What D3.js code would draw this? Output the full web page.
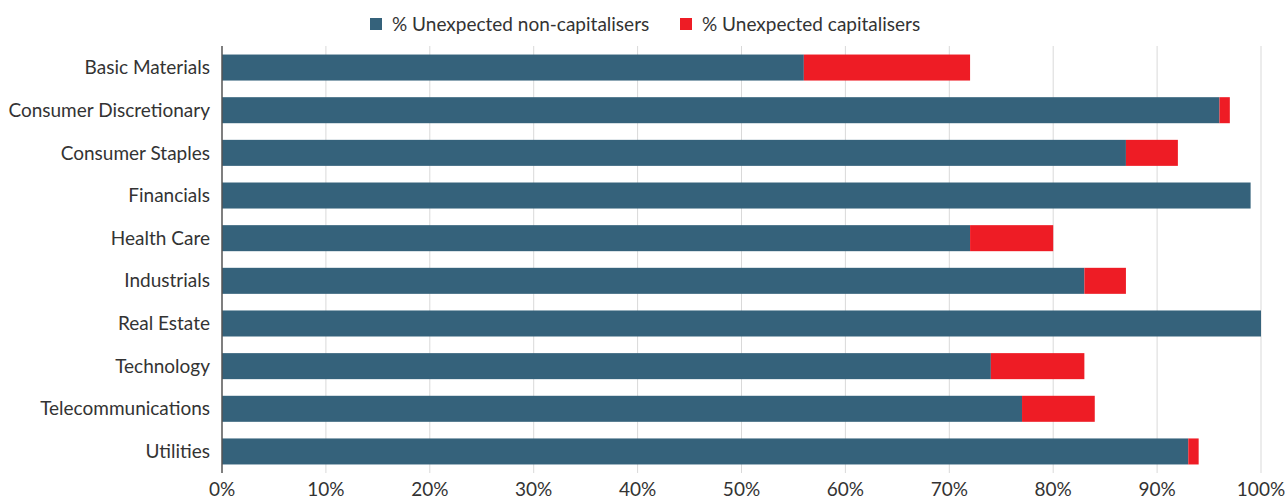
<!DOCTYPE html>
<html>
<head>
<meta charset="utf-8">
<script src="https://cdn.jsdelivr.net/npm/d3@7"></script>
<style>
  body { margin: 0; background: #fff; }
  text { font-family: Lato, "Noto Sans", sans-serif; fill: #333; }
</style>
</head>
<body>
<div id="chart"></div>
<script>
var categories = ['Basic Materials', 'Consumer Discretionary', 'Consumer Staples', 'Financials',
    'Health Care', 'Industrials', 'Real Estate', 'Technology', 'Telecommunications', 'Utilities'];
var nonCapitalisers = [56, 96, 87, 99, 72, 83, 100, 74, 77, 93];
var capitalisers = [16, 1, 5, 0, 8, 4, 0, 9, 7, 1];
var seriesNames = ['% Unexpected non-capitalisers', '% Unexpected capitalisers'];
var seriesColors = ['#35627b', '#ee1c25'];
var xTicks = [0, 10, 20, 30, 40, 50, 60, 70, 80, 90, 100];

var width = 1285,
    height = 500,
    margin = {top: 46, right: 24, bottom: 27, left: 222};

var svg = d3.select('#chart').append('svg')
    .attr('width', width)
    .attr('height', height);

var xScale = d3.scaleLinear()
    .domain([0, 100])
    .range([margin.left, width - margin.right]);

var yScale = d3.scaleBand()
    .domain(categories)
    .range([margin.top, height - margin.bottom])
    .paddingInner(0.39)
    .paddingOuter(0.2);

// gridlines
svg.append('g')
    .selectAll('line')
    .data(xTicks.slice(1))
    .join('line')
    .attr('x1', function (d) { return xScale(d); })
    .attr('x2', function (d) { return xScale(d); })
    .attr('y1', margin.top)
    .attr('y2', height - margin.bottom)
    .attr('stroke', '#d9d9d9')
    .attr('stroke-width', 1);

// stacked bars
var rows = categories.map(function (c, i) {
    return {cat: c, a: nonCapitalisers[i], b: capitalisers[i]};
});
var stack = d3.stack().keys(['a', 'b'])(rows);

svg.append('g')
    .selectAll('g')
    .data(stack)
    .join('g')
    .attr('fill', function (d, i) { return seriesColors[i]; })
    .selectAll('rect')
    .data(function (d) { return d; })
    .join('rect')
    .attr('x', function (d) { return xScale(d[0]); })
    .attr('width', function (d) { return xScale(d[1]) - xScale(d[0]); })
    .attr('y', function (d) { return yScale(d.data.cat); })
    .attr('height', yScale.bandwidth());

// left axis line
svg.append('line')
    .attr('x1', xScale(0))
    .attr('x2', xScale(0))
    .attr('y1', margin.top)
    .attr('y2', height - margin.bottom)
    .attr('stroke', '#555')
    .attr('stroke-width', 1.5);

// category labels
svg.append('g')
    .selectAll('text')
    .data(categories)
    .join('text')
    .attr('x', margin.left - 12)
    .attr('y', function (d) { return yScale(d) + yScale.bandwidth() / 2; })
    .attr('dy', '0.35em')
    .attr('text-anchor', 'end')
    .style('font-size', '19px')
    .text(function (d) { return d; });

// x tick labels
svg.append('g')
    .selectAll('text')
    .data(xTicks)
    .join('text')
    .attr('x', function (d) { return xScale(d); })
    .attr('y', 496)
    .attr('text-anchor', 'middle')
    .style('font-size', '19px')
    .text(function (d) { return d + '%'; });

// legend
var legendX = [370, 680];
var legend = svg.append('g')
    .selectAll('g')
    .data(seriesNames)
    .join('g')
    .attr('transform', function (d, i) { return 'translate(' + legendX[i] + ', 24)'; });

legend.append('rect')
    .attr('x', 0)
    .attr('y', -6)
    .attr('width', 12)
    .attr('height', 12)
    .attr('fill', function (d, i) { return seriesColors[i]; });

legend.append('text')
    .attr('x', 22)
    .attr('dy', '0.35em')
    .style('font-size', '19px')
    .text(function (d) { return d; });
</script>
</body>
</html>
